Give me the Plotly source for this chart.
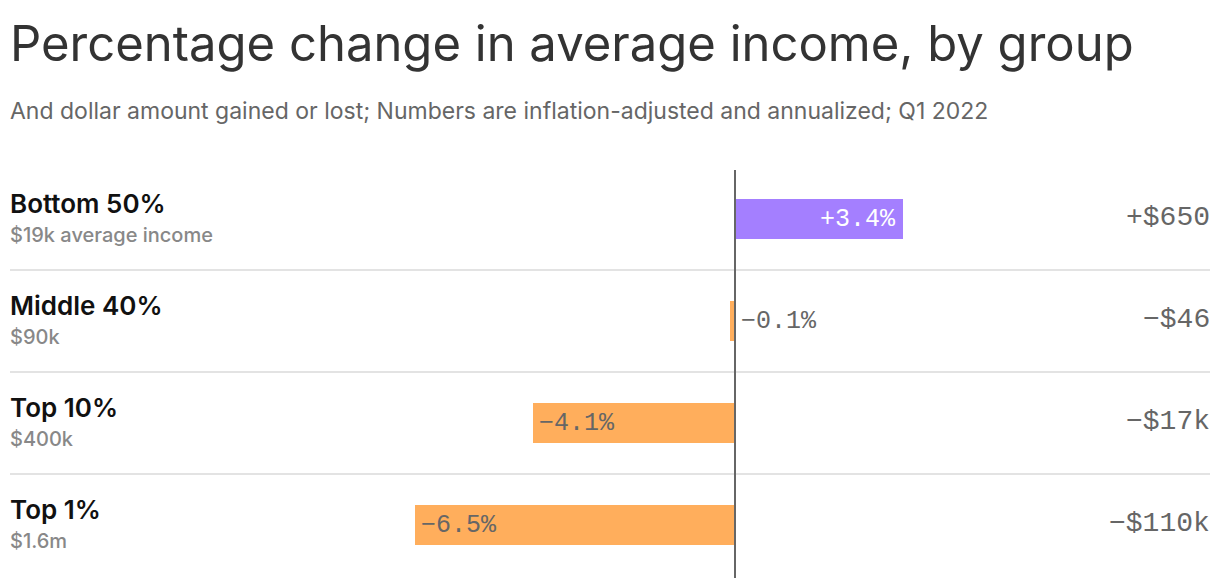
import plotly.graph_objects as go

# data
groups = ['Bottom 50%', 'Middle 40%', 'Top 10%', 'Top 1%']
avg_income = ['$19k average income', '$90k', '$400k', '$1.6m']
pct_change = [3.4, -0.1, -4.1, -6.5]
pct_labels = ['+3.4%', '−0.1%', '−4.1%', '−6.5%']
dollar_labels = ['+$650', '−$46', '−$17k', '−$110k']

PURPLE = '#a47fff'
ORANGE = '#ffae5c'
GREY = '#666666'
SANS = 'Inter, Roboto, sans-serif'
MONO = 'Liberation Mono, DejaVu Sans Mono, monospace'

# the page body has an 8px margin, so the figure is drawn a bit smaller
OFF = 8
W, H = 1220 - 2 * OFF, 586 - 2 * OFF
ZERO_PX = 735 - OFF      # where 0% sits
PX_PER_PCT = 49.3
ROW0_PX = 219 - OFF      # centre of first row
ROW_STEP = 102
LEFT = 10 - OFF
TEXT_LEFT = 0            # Inter has a little side bearing

rows = list(range(len(groups)))
colors = [PURPLE if v > 0 else ORANGE for v in pct_change]

fig = go.Figure()
fig.add_trace(go.Bar(
    x=pct_change, y=rows, orientation='h',
    marker=dict(color=colors, line=dict(width=0)),
    width=40 / ROW_STEP,
    hoverinfo='skip',
))

x_range = [-ZERO_PX / PX_PER_PCT, (W - ZERO_PX) / PX_PER_PCT]
y_range = [(H - ROW0_PX) / ROW_STEP, -ROW0_PX / ROW_STEP]

# row separators
for i in rows[:-1]:
    fig.add_shape(type='line', xref='paper', yref='y', x0=LEFT / W, x1=(1210 - OFF) / W,
                  y0=i + 0.5, y1=i + 0.5, line=dict(color='#e3e3e3', width=2), layer='below')

# zero line
fig.add_shape(type='line', xref='x', yref='paper', x0=0, x1=0, y0=0, y1=(H - (170 - OFF)) / H,
              line=dict(color=GREY, width=2), layer='above')

for i in rows:
    # left labels
    fig.add_annotation(x=TEXT_LEFT / W, xref='paper', y=i, yref='y', yshift=16,
                       text=groups[i], showarrow=False, xanchor='left', yanchor='middle',
                       font=dict(family=SANS, size=26, color='#111111', weight=600))
    fig.add_annotation(x=TEXT_LEFT / W, xref='paper', y=i, yref='y', yshift=-16,
                       text=avg_income[i], showarrow=False, xanchor='left', yanchor='middle',
                       font=dict(family=SANS, size=20, color='#888888', weight=500))
    # dollar amounts on the right
    fig.add_annotation(x=(1212 - OFF) / W, xref='paper', y=i, yref='y', yshift=2,
                       text=dollar_labels[i], showarrow=False, xanchor='right', yanchor='middle',
                       font=dict(family=MONO, size=28, color=GREY))
    # bar labels
    v = pct_change[i]
    if v > 0:
        fig.add_annotation(x=v, y=i, text=pct_labels[i], showarrow=False,
                           xanchor='right', xshift=-5, yanchor='middle',
                           font=dict(family=MONO, size=25, color='white'))
    elif abs(v) < 1:
        fig.add_annotation(x=0, y=i, text=pct_labels[i], showarrow=False,
                           xanchor='left', xshift=4, yanchor='middle',
                           font=dict(family=MONO, size=25, color=GREY))
    else:
        fig.add_annotation(x=v, y=i, text=pct_labels[i], showarrow=False,
                           xanchor='left', xshift=4, yanchor='middle',
                           font=dict(family=MONO, size=25, color=GREY))

# title and subtitle
fig.add_annotation(x=TEXT_LEFT / W, xref='paper', y=1 - (44 - OFF) / H, yref='paper',
                   text='Percentage change in average income, by group', showarrow=False,
                   xanchor='left', yanchor='middle',
                   font=dict(family=SANS, size=49, color='#333333'))
fig.add_annotation(x=TEXT_LEFT / W, xref='paper', y=1 - (111 - OFF) / H, yref='paper',
                   text='And dollar amount gained or lost; Numbers are inflation-adjusted and annualized; Q1 2022',
                   showarrow=False, xanchor='left', yanchor='middle',
                   font=dict(family=SANS, size=23, color=GREY))

fig.update_layout(
    width=W, height=H,
    margin=dict(l=0, r=0, t=0, b=0),
    paper_bgcolor='white', plot_bgcolor='white',
    showlegend=False,
    xaxis=dict(range=x_range, visible=False, fixedrange=True),
    yaxis=dict(range=y_range, visible=False, fixedrange=True),
    bargap=0,
)

fig.write_html('out.html', config={'displayModeBar': False})
